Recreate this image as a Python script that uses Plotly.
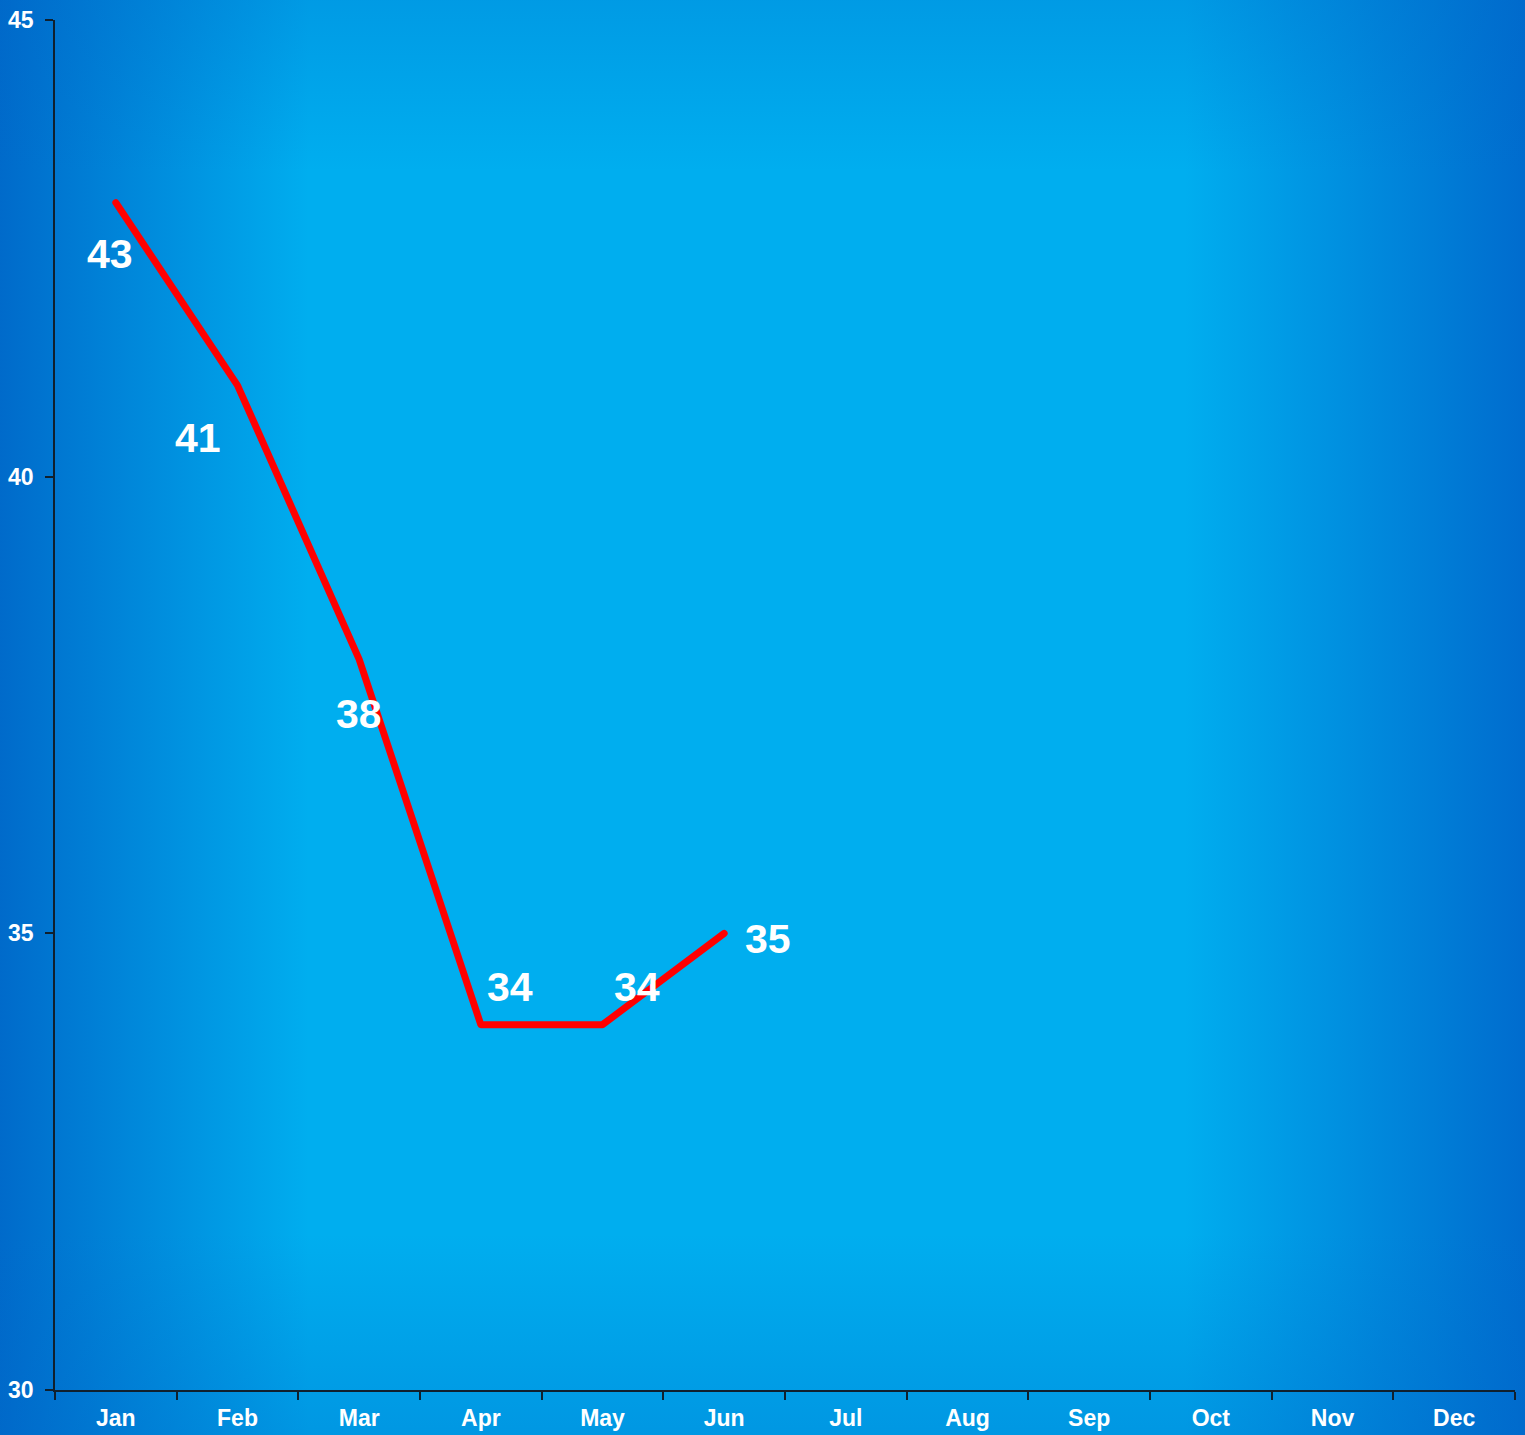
import base64
import plotly.graph_objects as go

months = ["Jan", "Feb", "Mar", "Apr", "May", "Jun", "Jul", "Aug", "Sep", "Oct", "Nov", "Dec"]
values = [43, 41, 38, 34, 34, 35]
y_ticks = [30, 35, 40, 45]

# label offsets in pixels (style only)
label_dx = [-6, -40, 0, 29, 34, 44]
label_dy = [-51, -53, -55, 38, 38, -6]

W, H = 1525, 1435
L, R, T, B = 55, 10, 20, 45
pw, ph = W - L - R, H - T - B
EXT = 20  # overhang of background image

svg = f'''<svg xmlns="http://www.w3.org/2000/svg" width="{W}" height="{H}" viewBox="0 0 {W} {H}" preserveAspectRatio="none">
<defs>
<linearGradient id="h" x1="0" y1="0" x2="1" y2="0">
<stop offset="0" stop-color="#0066C8"/>
<stop offset="0.21" stop-color="#00AEEF"/>
<stop offset="0.77" stop-color="#00AEEF"/>
<stop offset="1" stop-color="#0068CC"/>
</linearGradient>
<linearGradient id="v" x1="0" y1="0" x2="0" y2="1">
<stop offset="0" stop-color="#0066C8" stop-opacity="0.3"/>
<stop offset="0.13" stop-color="#0066C8" stop-opacity="0"/>
<stop offset="0.85" stop-color="#0066C8" stop-opacity="0"/>
<stop offset="1" stop-color="#0066C8" stop-opacity="0.35"/>
</linearGradient>
</defs>
<rect x="0" y="0" width="{W}" height="{H}" fill="url(#h)"/>
<rect x="0" y="0" width="{W}" height="{H}" fill="url(#v)"/>
</svg>'''
src = "data:image/svg+xml;base64," + base64.b64encode(svg.encode()).decode()

font = "Liberation Sans, Arial, sans-serif"

fig = go.Figure()
fig.add_trace(go.Scatter(x=months, y=[None] * len(months), mode="lines",
                         showlegend=False, hoverinfo="skip"))
fig.add_trace(go.Scatter(x=months[:len(values)], y=values, mode="lines",
                         line=dict(color="#FF0000", width=7),
                         showlegend=False))

for m, v, dx, dy in zip(months, values, label_dx, label_dy):
    fig.add_annotation(x=m, y=v, text=f"<b>{v}</b>", showarrow=False,
                       xshift=dx, yshift=dy,
                       font=dict(family=font, size=41, color="white"))

fig.add_layout_image(dict(source=src, xref="paper", yref="paper",
                          x=-(L + EXT) / pw, y=1 + (T + EXT) / ph,
                          sizex=(W + 2 * EXT) / pw, sizey=(H + 2 * EXT) / ph,
                          xanchor="left", yanchor="top", sizing="stretch",
                          layer="below"))

fig.update_layout(
    width=W, height=H,
    margin=dict(l=L, r=R, t=T, b=B, autoexpand=False),
    paper_bgcolor="#0088D8",
    plot_bgcolor="rgba(0,0,0,0)",
    showlegend=False,
    xaxis=dict(type="category", categoryorder="array", categoryarray=months,
               range=[-0.5, 11.5], tickson="boundaries", ticks="outside",
               ticklen=8, tickwidth=2, tickcolor="#10202e",
               showline=True, linecolor="#10202e", linewidth=2,
               showgrid=False, zeroline=False, ticklabelstandoff=6,
               automargin=False,
               tickfont=dict(family=font, size=23, color="white", weight="bold"),
               fixedrange=True),
    yaxis=dict(range=[30, 45], tickvals=y_ticks, ticks="outside", ticklen=8,
               tickwidth=2, tickcolor="#10202e",
               showline=True, linecolor="#10202e", linewidth=1.5,
               showgrid=False, zeroline=False, ticklabelstandoff=7,
               automargin=False,
               tickfont=dict(family=font, size=23, color="white", weight="bold"),
               fixedrange=True),
)

post = """
document.body.style.margin='0';
document.querySelectorAll('.scatterlayer path.js-line').forEach(function(p){
  p.style.strokeLinecap='round'; p.style.strokeLinejoin='round';
});
"""
fig.write_html("out.html", config={"displayModeBar": False}, post_script=post)
